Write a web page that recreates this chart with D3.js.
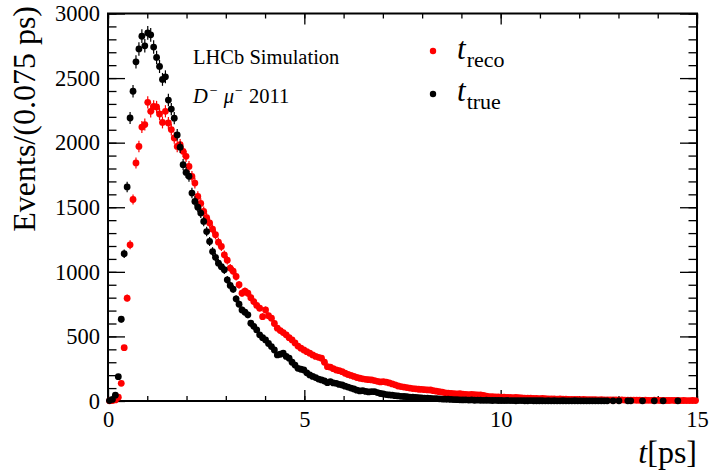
<!DOCTYPE html>
<html>
<head>
<meta charset="utf-8">
<script src="https://cdn.jsdelivr.net/npm/d3@7"></script>
<style>
  html, body { margin: 0; padding: 0; background: #fff; }
  svg { display: block; font-family: "Liberation Serif", "DejaVu Serif", serif; }
</style>
</head>
<body>
<div id="chart"></div>
<script>
// Bin width 0.075 ps, 200 bins from 0 to 15 ps
const binWidth = 0.075;

// t_true (black) counts per bin
const tTrue = [
  3, 12, 45, 188, 633, 1140, 1657, 2191, 2398, 2626,
  2726, 2824, 2750, 2850, 2835, 2740, 2660, 2590, 2490, 2510,
  2330, 2260, 2190, 2060, 1965, 1830, 1770, 1740, 1610, 1545,
  1500, 1455, 1390, 1312, 1235, 1157, 1112, 1067, 1040, 1016,
  938, 895, 866, 791, 750, 705, 688, 667, 602, 578,
  550, 512, 490, 473, 445, 421, 395, 357, 362, 370,
  345, 331, 300, 278, 253, 246, 240, 218, 202, 190,
  181, 170, 163, 155, 142, 150, 140, 137, 128, 124,
  115, 108, 100, 93, 84, 78, 80, 74, 70, 73,
  72, 65, 58, 55, 50, 47, 45, 41, 39, 36,
  35, 33, 30, 29, 27, 26, 24, 23, 22, 21,
  19, 18, 17, 15, 14, 14, 12, 11, 10, 9,
  8, 9, 7, 8, 6, 7, 6, 5, 6, 5,
  4, 5, 4, 4, 3, 4, 3, 3, 2, 3,
  3, 2, 2, 3, 2, 2, 2, 2, 1, 2,
  1, 2, 1, 1, 2, 1, 1, 1, 2, 1,
  1, 1, 1, 1, 1, 1, 1, 1, 1, 1,
  0, 1, 0, 1, 0, 0, 1, 1, 0, 0,
  0, 1, 0, 0, 0, 1, 0, 0, 1, 0,
  0, 0, 0, 1, 0, 0, 0, 0, 0, 0
];

// t_reco (red) counts per bin
const tReco = [
  1, 3, 8, 29, 137, 413, 796, 1209, 1560, 1843,
  1971, 2121, 2140, 2312, 2243, 2281, 2276, 2222, 2157, 2243,
  2153, 2101, 2036, 1971, 1984, 1933, 1894, 1816, 1739, 1687,
  1584, 1530, 1467, 1420, 1378, 1330, 1287, 1230, 1196, 1132,
  1090, 1029, 1005, 964, 900, 835, 850, 835, 800, 770,
  740, 719, 653, 705, 660, 641, 600, 564, 545, 530,
  512, 490, 473, 450, 425, 409, 395, 382, 370, 357,
  345, 338, 331, 300, 266, 262, 250, 240, 235, 227,
  215, 205, 198, 190, 182, 176, 172, 168, 165, 163,
  158, 152, 148, 150, 146, 140, 132, 125, 116, 112,
  108, 104, 100, 96, 94, 91, 90, 88, 86, 85,
  80, 76, 72, 68, 63, 60, 58, 57, 55, 56,
  54, 52, 50, 51, 49, 48, 47, 44, 38, 33,
  34, 32, 31, 30, 29, 28, 27, 26, 27, 25,
  24, 23, 22, 23, 21, 20, 19, 20, 18, 17,
  17, 16, 15, 16, 14, 14, 13, 13, 12, 13,
  11, 12, 11, 10, 11, 10, 9, 10, 9, 8,
  9, 8, 8, 7, 8, 7, 7, 6, 7, 6,
  6, 5, 6, 5, 5, 6, 5, 4, 5, 4,
  4, 5, 4, 4, 3, 4, 3, 3, 4, 3
];

const xTicks = [0, 5, 10, 15];
const yTicks = [0, 500, 1000, 1500, 2000, 2500, 3000];

const width = 710;
const height = 474;
const marginTop = 13.5;
const marginRight = 13;
const marginBottom = 73;
const marginLeft = 108;

const toPoints = arr => arr
  .map((v, i) => ({t: (i + 0.5) * binWidth, n: v}))
  .filter(d => d.n > 0);

const x = d3.scaleLinear()
  .domain([0, 15])
  .range([marginLeft, width - marginRight]);

const y = d3.scaleLinear()
  .domain([0, 3000])
  .range([height - marginBottom, marginTop]);

const svg = d3.select("#chart")
  .append("svg")
    .attr("width", width)
    .attr("height", height)
    .attr("viewBox", [0, 0, width, height]);

// minor + major ticks on all four sides
const xMinor = d3.range(0, 16, 1);
const yMinor = d3.range(0, 3001, 100);

function styleAxis(g) {
  g.select(".domain").remove();
  g.selectAll(".tick line").attr("stroke", "#000").attr("stroke-width", 1.3);
  g.selectAll("text").attr("font-family", "Liberation Serif").attr("font-size", 22.5).attr("fill", "#000");
}

svg.append("g")
  .attr("transform", `translate(0,${y(0)})`)
  .call(d3.axisBottom(x).tickValues(xMinor).tickSize(-5).tickFormat(""))
  .call(styleAxis);
svg.append("g")
  .attr("transform", `translate(0,${y(0)})`)
  .call(d3.axisBottom(x).tickValues(xTicks).tickSize(-11).tickPadding(10).tickFormat(d3.format("d")))
  .call(styleAxis);
svg.append("g")
  .attr("transform", `translate(0,${y(3000)})`)
  .call(d3.axisTop(x).tickValues(xMinor).tickSize(-5).tickFormat(""))
  .call(styleAxis);
svg.append("g")
  .attr("transform", `translate(0,${y(3000)})`)
  .call(d3.axisTop(x).tickValues(xTicks).tickSize(-11).tickFormat(""))
  .call(styleAxis);

svg.append("g")
  .attr("transform", `translate(${x(0)},0)`)
  .call(d3.axisLeft(y).tickValues(yMinor).tickSize(-8.5).tickFormat(""))
  .call(styleAxis);
svg.append("g")
  .attr("transform", `translate(${x(0)},0)`)
  .call(d3.axisLeft(y).tickValues(yTicks).tickSize(-17).tickPadding(8).tickFormat(d3.format("d")))
  .call(styleAxis);
svg.append("g")
  .attr("transform", `translate(${x(15)},0)`)
  .call(d3.axisRight(y).tickValues(yMinor).tickSize(-8.5).tickFormat(""))
  .call(styleAxis);
svg.append("g")
  .attr("transform", `translate(${x(15)},0)`)
  .call(d3.axisRight(y).tickValues(yTicks).tickSize(-17).tickFormat(""))
  .call(styleAxis);

// frame
svg.append("rect")
  .attr("x", x(0))
  .attr("y", y(3000))
  .attr("width", x(15) - x(0))
  .attr("height", y(0) - y(3000))
  .attr("fill", "none")
  .attr("stroke", "#000")
  .attr("stroke-width", 2);

// data series: red first, black on top
function drawSeries(data, color) {
  const g = svg.append("g");
  g.selectAll("line")
    .data(data)
    .join("line")
      .attr("x1", d => x(d.t))
      .attr("x2", d => x(d.t))
      .attr("y1", d => y(Math.max(0, d.n - Math.sqrt(d.n))))
      .attr("y2", d => y(d.n + Math.sqrt(d.n)))
      .attr("stroke", color)
      .attr("stroke-width", 1.2);
  g.selectAll("circle")
    .data(data)
    .join("circle")
      .attr("cx", d => x(d.t))
      .attr("cy", d => y(d.n))
      .attr("r", 3.4)
      .attr("fill", color);
}
drawSeries(toPoints(tReco), "#ff0000");
drawSeries(toPoints(tTrue), "#000000");

// axis titles
svg.append("text")
  .attr("x", x(15))
  .attr("y", 463)
  .attr("text-anchor", "end")
  .attr("font-size", 32)
  .call(t => t.append("tspan").attr("font-style", "italic").text("t"))
  .call(t => t.append("tspan").text("[ps]"));

svg.append("text")
  .attr("transform", "translate(35,6) rotate(-90)")
  .attr("text-anchor", "end")
  .attr("font-size", 32)
  .text("Events/(0.075 ps)");

// labels
svg.append("text")
  .attr("x", 193)
  .attr("y", 64)
  .attr("font-size", 20.5)
  .text("LHCb Simulation");

const lab = svg.append("text")
  .attr("x", 193)
  .attr("y", 103)
  .attr("font-size", 20.5);
lab.append("tspan").attr("font-style", "italic").text("D");
lab.append("tspan").attr("font-size", 14).attr("dy", -8).attr("dx", 2).text("\u2212");
lab.append("tspan").attr("font-style", "italic").attr("dy", 8).attr("dx", 6).text("\u03bc");
lab.append("tspan").attr("font-size", 14).attr("dy", -8).attr("dx", 1).text("\u2212");
lab.append("tspan").attr("dy", 8).attr("dx", 1).text(" 2011");

// legend
const legend = [
  {color: "#ff0000", sub: "reco", cy: 51, base: 59},
  {color: "#000000", sub: "true", cy: 94, base: 101}
];
legend.forEach(l => {
  svg.append("circle").attr("cx", 433).attr("cy", l.cy).attr("r", 3.2).attr("fill", l.color);
  const t = svg.append("text").attr("x", 457).attr("y", l.base).attr("font-size", 31);
  t.append("tspan").attr("font-style", "italic").text("t");
  t.append("tspan").attr("font-size", 22).attr("dy", 8).attr("dx", 1).text(l.sub);
});
</script>
</body>
</html>
